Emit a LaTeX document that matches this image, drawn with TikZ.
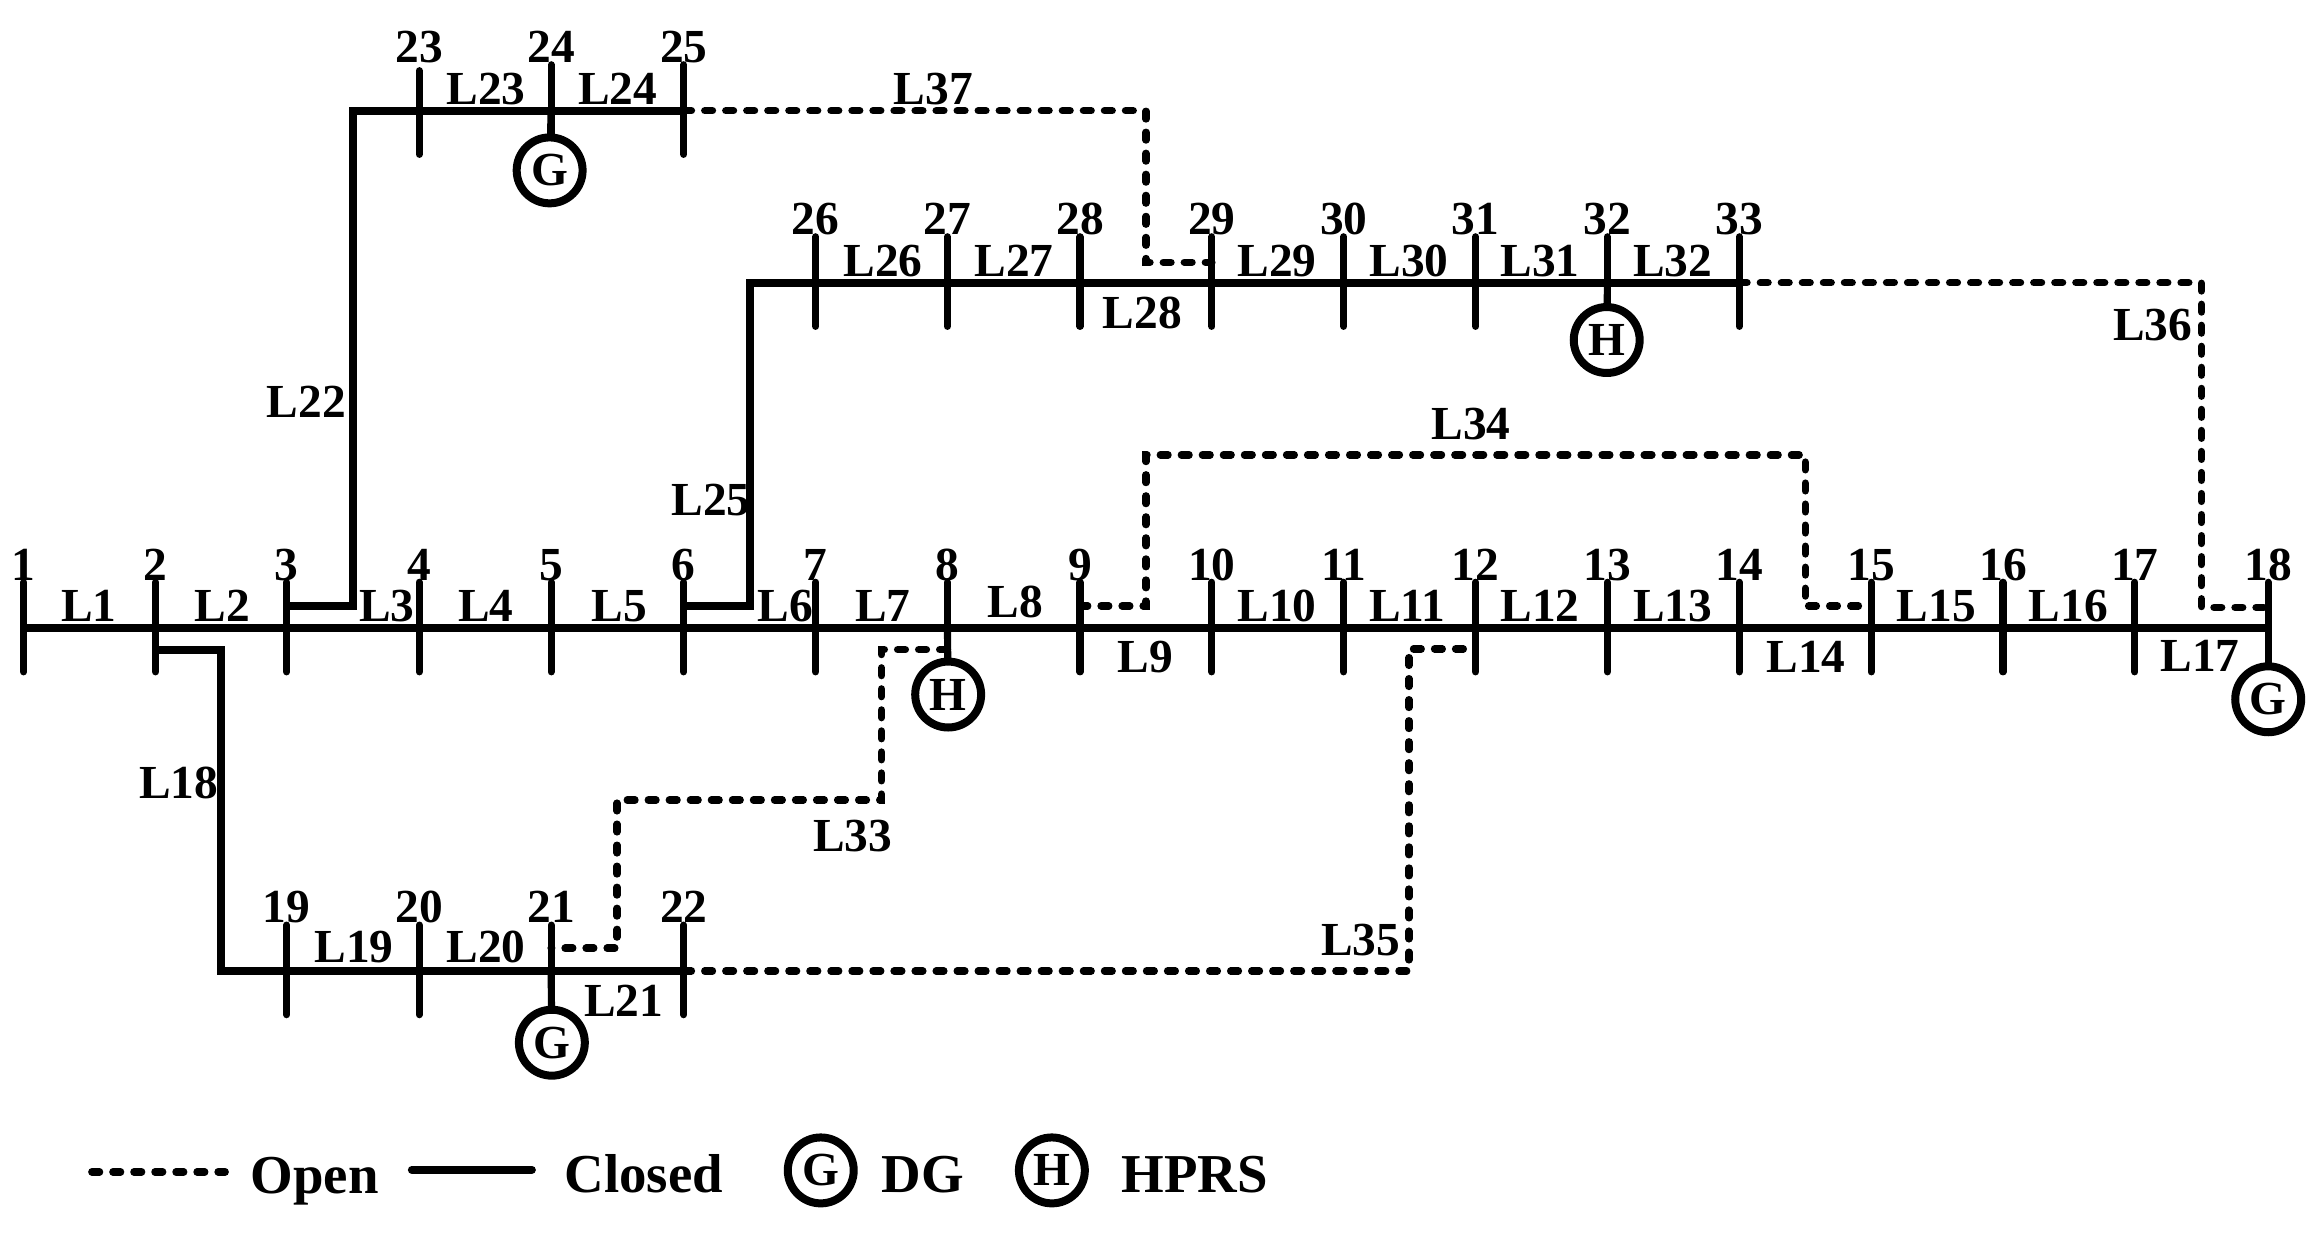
\documentclass[tikz,border=0pt]{standalone}
\usepackage{fontspec}
\setmainfont{Liberation Serif}
\tikzset{
   closedline/.style={line width=5.4pt, line join=miter},
   openline/.style={line width=5pt, line cap=round, dash pattern=on 5.2pt off 9pt},
   bustick/.style={line width=4.8pt, line cap=round},
   numtext/.style={font=\bfseries\fontsize{32}{32}\selectfont, inner sep=0pt, anchor=base},
   legtext/.style={font=\bfseries\fontsize{37}{37}\selectfont, inner sep=0pt, anchor=base west},
   srcnode/.style={draw, circle, fill=white, line width=5.4pt, minimum size=44.5pt, inner sep=0pt, outer sep=0pt,
      font=\bfseries\fontsize{32}{32}\selectfont}
}
\begin{document}
\begin{tikzpicture}[x=1pt, y=-1pt]
   \useasboundingbox (0,0) rectangle (1568,833.6);
   % buses: number / x / y / length of tick above the line
   \foreach \n/\x/\y/\up in {
      1/16/424/31, 2/105/424/31, 3/193.5/424/31, 4/283/424/31, 5/372/424/31, 6/461.5/424/31,
      7/550.5/424/31, 8/639.5/424/31, 9/729/424/31, 10/818/424/31, 11/907/424/31, 12/996/424/31,
      13/1085/424/31, 14/1174/424/31, 15/1263/424/31, 16/1352/424/31, 17/1441/424/31, 18/1531/424/31,
      19/193.5/655.4/31, 20/283/655.4/31, 21/372/655.4/31, 22/461.5/655.4/31,
      23/283/74.7/27, 24/372/74.7/31, 25/461.5/74.7/31,
      26/550.5/190.8/31, 27/639.5/190.8/31, 28/729/190.8/31, 29/818/190.8/31, 30/907/190.8/31,
      31/996/190.8/31, 32/1085/190.8/31, 33/1174/190.8/31}{
      \coordinate (bus\n) at (\x,\y);
      \draw[bustick] (\x,\y-\up) -- (\x,\y+29.5);
      \node[numtext] (num\n) at (\x,\y-32.4) {\n};
   }
   % tie points on the ticks and corners
   \coordinate (tie2) at (105,438.5);
   \coordinate (tie3) at (193.5,409);
   \coordinate (tie6) at (461.5,409);
   \coordinate (tie8) at (639.5,438.5);
   \coordinate (tie9) at (729,409);
   \coordinate (tie12) at (996,438);
   \coordinate (tie15) at (1263,409);
   \coordinate (tie18) at (1531,410);
   \coordinate (tie21) at (372,640);
   \coordinate (tie29) at (818,177);
   \coordinate (cor18) at (149.5,655.4);
   \coordinate (cor22) at (238.5,74.7);
   \coordinate (cor25) at (506.5,190.8);
   \coordinate (cor33a) at (595,540);
   \coordinate (cor33b) at (416.5,640);
   \coordinate (cor34a) at (773.5,307);
   \coordinate (cor34b) at (1218.5,409);
   \coordinate (cor35) at (951,438);
   \coordinate (cor36) at (1486,410);
   \coordinate (cor37) at (773.5,177);
   % closed lines
   \draw[closedline] (bus1) -- (bus18);
   \draw[closedline] (tie2) -| (cor18) -- (bus22);
   \draw[closedline] (tie3) -| (cor22) -- (bus25);
   \draw[closedline] (tie6) -| (cor25) -- (bus33);
   % open lines
   \draw[openline] (tie8) -| (cor33a) -| (cor33b) -- (tie21);
   \draw[openline] (tie9) -| (cor34a) -| (cor34b) -- (tie15);
   \draw[openline] (bus22) -| (cor35) -- (tie12);
   \draw[openline] (bus33) -| (cor36) -- (tie18);
   \draw[openline] (bus25) -| (cor37) -- (tie29);
   % line labels
   \foreach \n/\x/\y in {
      1/60/419.6, 2/150/419.6, 3/261/419.6, 4/328/419.6, 5/418/419.6, 6/530/419.6, 7/596/419.6,
      8/685.5/417, 9/773/454, 10/862/419.6, 11/950/419.6, 12/1039.5/419.6, 13/1129/419.6,
      14/1219/454, 15/1307/419.6, 16/1396/419.6, 17/1485/453.4, 18/120.7/539, 19/239/650,
      20/328/650, 21/421/686, 22/206.7/281.6, 23/328/70.7, 24/417/70.7, 25/480/348,
      26/596/186.8, 27/684.5/186.8, 28/771/221.5, 29/862/186.8, 30/951/186.8, 31/1039.5/186.8,
      32/1129/186.8, 33/575.5/575, 34/993/296.8, 35/918.5/645, 36/1453/229.5, 37/630/70.7}{
      \node[numtext] (line\n) at (\x,\y) {L\n};
   }
   % sources
   \node[srcnode] (gen24) at (371,115) {G};
   \node[srcnode] (gen21) at (372.5,703.8) {G};
   \node[srcnode] (gen18) at (1531,472) {G};
   \node[srcnode] (hp32) at (1084.5,229.5) {H};
   \node[srcnode] (hp8) at (640,468.8) {H};
   \draw[bustick] (bus24) -- (gen24);
   \draw[bustick] (bus21) -- (gen21);
   \draw[bustick] (bus18) -- (gen18);
   \draw[bustick] (bus32) -- (hp32);
   \draw[bustick] (bus8) -- (hp8);
   % legend
   \coordinate (legA) at (62,791);
   \coordinate (legB) at (152,791);
   \coordinate (legC) at (278,789.6);
   \coordinate (legD) at (359,789.6);
   \draw[openline] (legA) -- (legB);
   \draw[closedline, line cap=round] (legC) -- (legD);
   \node[legtext] (legopen) at (169,805.5) {Open};
   \node[legtext] (legclosed) at (381,805) {Closed};
   \node[srcnode] (leggen) at (554,790) {G};
   \node[legtext] (legdg) at (595,805) {DG};
   \node[srcnode] (leghp) at (710,790) {H};
   \node[legtext] (leghprs) at (757,805) {HPRS};
\end{tikzpicture}
\end{document}
